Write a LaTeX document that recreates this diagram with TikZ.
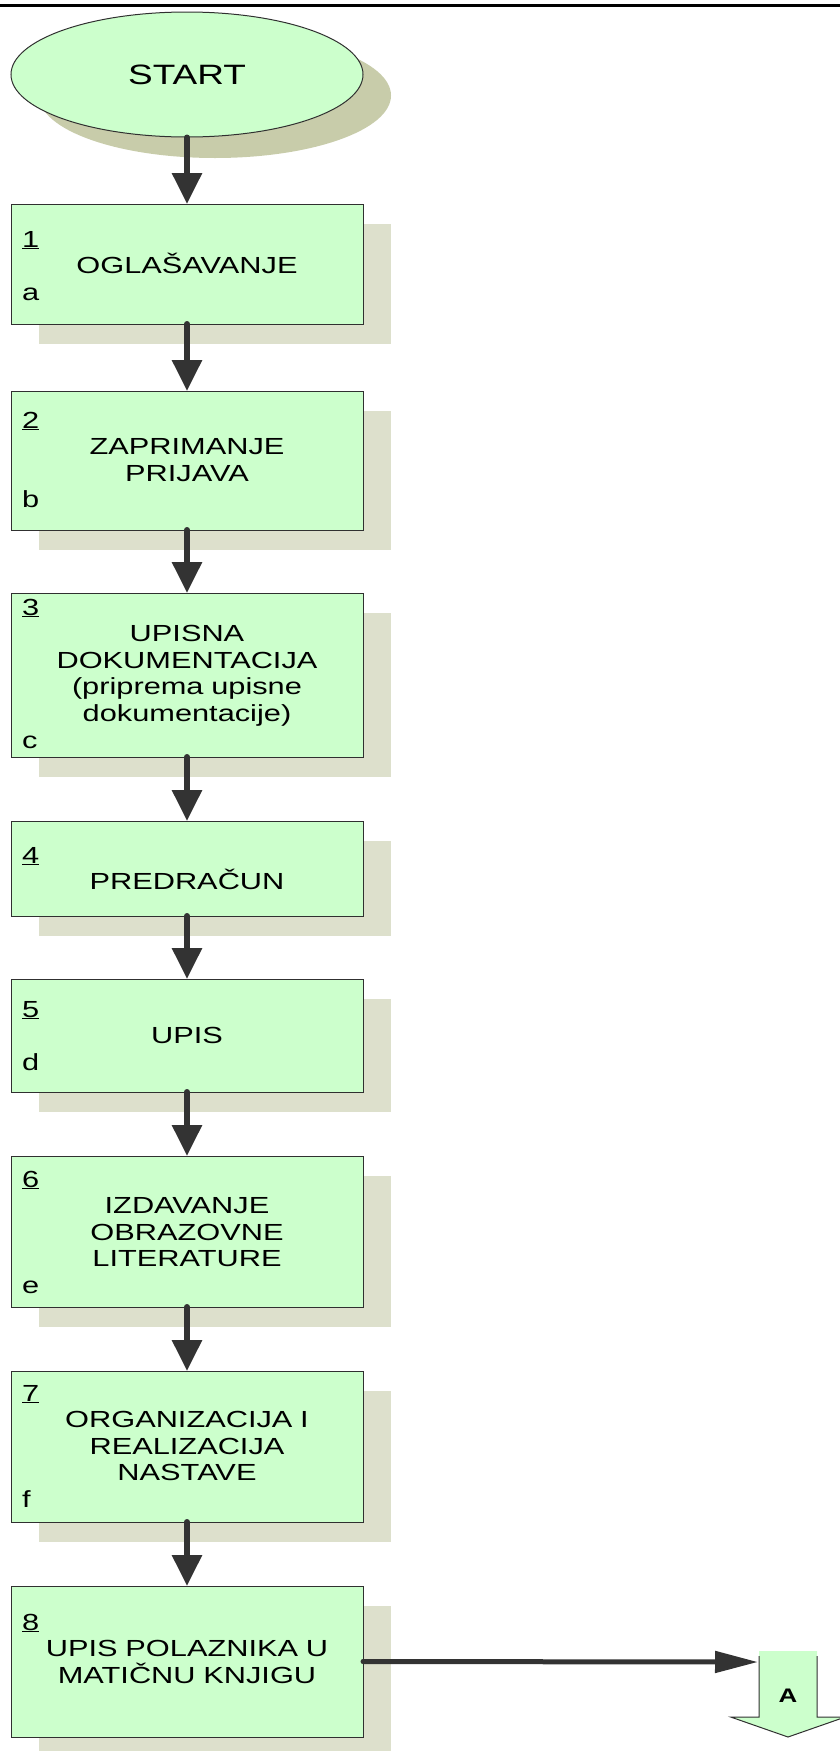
\documentclass[tikz,border=0pt]{standalone}
\usepackage{fontspec}
\setmainfont{Liberation Sans}[FakeStretch=1.32]
\usetikzlibrary{arrows.meta,shapes.geometric,shadows}
\definecolor{boxgreen}{HTML}{CCFFCC}
\definecolor{boxshadow}{HTML}{DDE0CC}
\definecolor{ellshadow}{HTML}{C8CCAA}
\definecolor{arrowgray}{HTML}{333333}
\definecolor{edgegray}{HTML}{303030}
\newcommand\boxnum[1]{\makebox[\linewidth][l]{\underline{#1}}}
\newcommand\boxlet[1]{\makebox[\linewidth][l]{#1}}
\begin{document}
\begin{tikzpicture}[x=1pt,y=-1pt,
  procbox/.style={rectangle, draw=edgegray, line width=1pt, fill=boxgreen,
    minimum width=352pt, inner sep=0pt, outer sep=0pt, anchor=north west,
    general shadow={fill=boxshadow, shadow xshift=27.5pt, shadow yshift=-20pt}},
  boxtext/.style={anchor=base, text width=330pt, align=center, inner sep=0pt,
    font=\fontsize{23.3}{26.6}\selectfont},
  flow/.style={draw=arrowgray, line width=6pt, line cap=round,
    -{Triangle[width=29pt,length=31pt]}},
  sideflow/.style={draw=arrowgray, line width=5pt, line cap=round,
    -{Triangle[width=21pt,length=43pt]}},
]
\useasboundingbox (0,0) rectangle (840,1751);
\fill[black] (0,4) rectangle (840,7.3);

\node[ellipse, draw=edgegray, line width=1pt, fill=boxgreen, minimum width=352pt,
  minimum height=125pt, inner sep=0pt,
  general shadow={fill=ellshadow, shadow xshift=28pt, shadow yshift=-21pt},
  font=\fontsize{28}{32}\selectfont] (start) at (187,74.5) {START};

\node[procbox, minimum height=120pt] (b1) at (11,204) {};
\node[boxtext] (t1) at (187,247) {\boxnum{1}\\OGLAŠAVANJE\\\boxlet{a}};

\node[procbox, minimum height=139pt] (b2) at (11,391) {};
\node[boxtext] (t2) at (187,428) {\boxnum{2}\\ZAPRIMANJE\\PRIJAVA\\\boxlet{b}};

\node[procbox, minimum height=164pt] (b3) at (11,593) {};
\node[boxtext] (t3) at (187,615) {\boxnum{3}\\UPISNA\\DOKUMENTACIJA\\(priprema upisne\\dokumentacije)\\\boxlet{c}};

\node[procbox, minimum height=95pt] (b4) at (11,821) {};
\node[boxtext] (t4) at (187,863) {\boxnum{4}\\PREDRAČUN};

\node[procbox, minimum height=113pt] (b5) at (11,979) {};
\node[boxtext] (t5) at (187,1017) {\boxnum{5}\\UPIS\\\boxlet{d}};

\node[procbox, minimum height=151pt] (b6) at (11,1156) {};
\node[boxtext] (t6) at (187,1187) {\boxnum{6}\\IZDAVANJE\\OBRAZOVNE\\LITERATURE\\\boxlet{e}};

\node[procbox, minimum height=151pt] (b7) at (11,1371) {};
\node[boxtext] (t7) at (187,1401) {\boxnum{7}\\ORGANIZACIJA I\\REALIZACIJA\\NASTAVE\\\boxlet{f}};

\node[procbox, minimum height=151pt] (b8) at (11,1586) {};
\node[boxtext] (t8) at (187,1630) {\boxnum{8}\\UPIS POLAZNIKA U\\MATIČNU KNJIGU};

% off-page connector A
\fill[boxgreen] (759,1651) -- (817,1651) -- (817,1717) -- (845.3,1717) -- (788,1737)
  -- (730.7,1717) -- (759,1717) -- cycle;
\draw[edgegray, line width=1pt, line join=miter] (759,1656) -- (759,1717) -- (730.7,1717)
  -- (788,1737) -- (845.3,1717) -- (817,1717) -- (817,1656);
\node[font=\fontsize{19.6}{22}\selectfont\bfseries, inner sep=0pt] (A) at (788,1696) {A};
\coordinate (Ain) at (758,1662);

% connectors
\draw[flow] (start.south) -- (b1.north);
\draw[flow] (b1.south) -- (b2.north);
\draw[flow] (b2.south) -- (b3.north);
\draw[flow] (b3.south) -- (b4.north);
\draw[flow] (b4.south) -- (b5.north);
\draw[flow] (b5.south) -- (b6.north);
\draw[flow] (b6.south) -- (b7.north);
\draw[flow] (b7.south) -- (b8.north);
\draw[sideflow] (b8.east) -- (Ain);
\end{tikzpicture}
\end{document}
